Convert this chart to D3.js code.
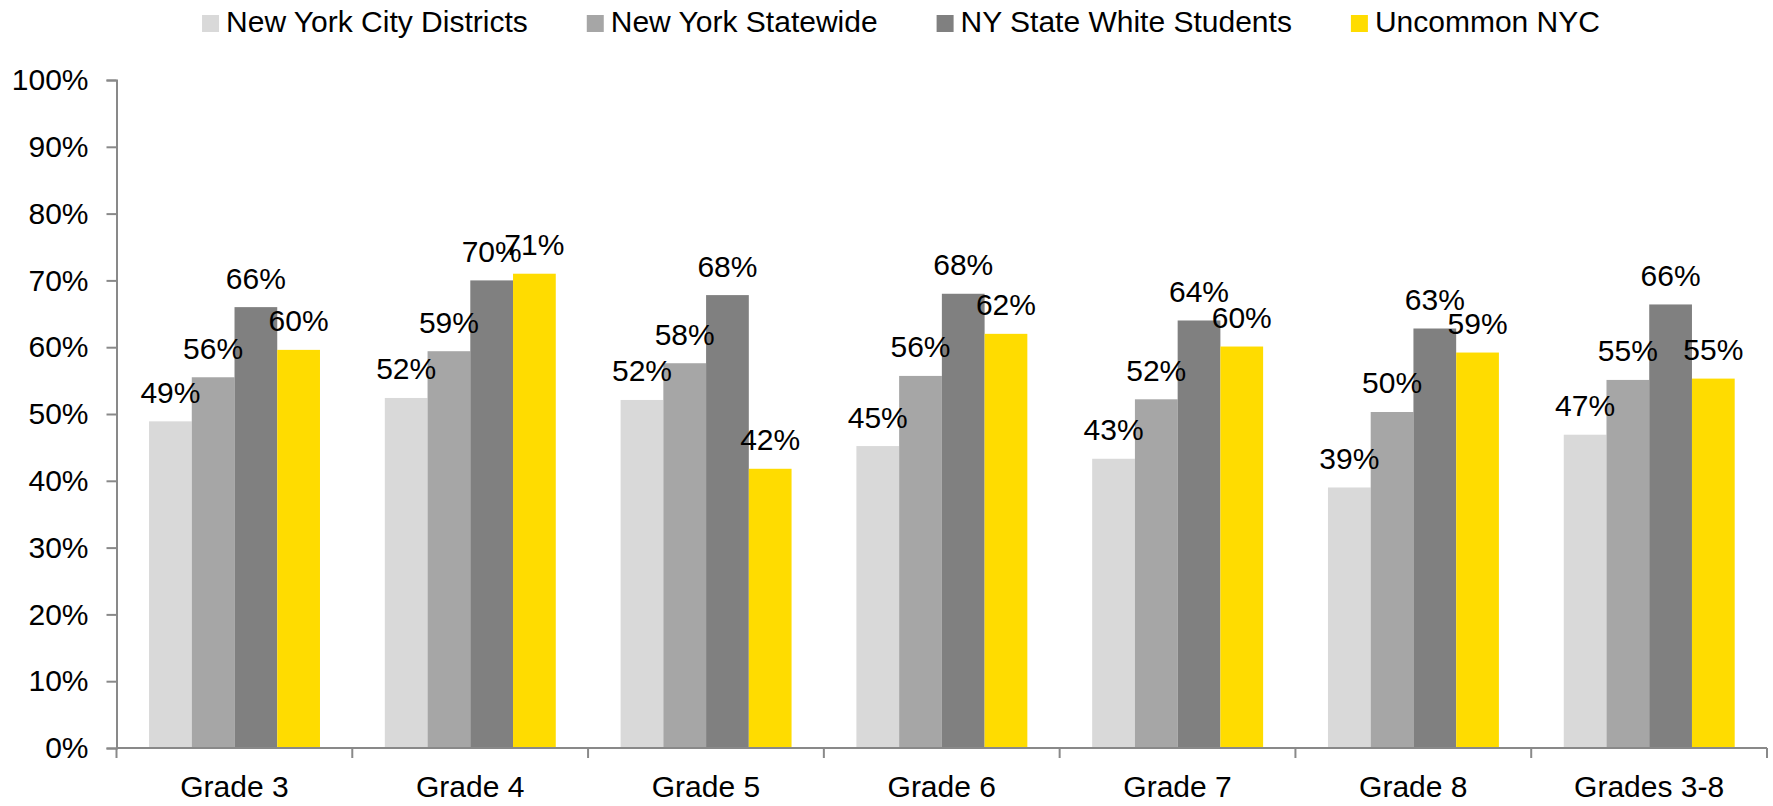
<!DOCTYPE html>
<html>
<head>
<meta charset="utf-8">
<script src="https://cdn.jsdelivr.net/npm/d3@7"></script>
<style>
  html, body { margin: 0; padding: 0; background: #fff; }
  svg { display: block; }
  text { font-family: "Liberation Sans", Arial, sans-serif; fill: #000; }
</style>
</head>
<body>
<svg id="chart" width="1773" height="806"></svg>
<script>
const categories = ["Grade 3", "Grade 4", "Grade 5", "Grade 6", "Grade 7", "Grade 8", "Grades 3-8"];
const seriesNames = ["New York City Districts", "New York Statewide", "NY State White Students", "Uncommon NYC"];
const seriesColors = ["#D9D9D9", "#A6A6A6", "#808080", "#FFDC00"];
const nycDistricts = [0.489, 0.524, 0.521, 0.452, 0.433, 0.390, 0.469];
const nyStatewide  = [0.555, 0.594, 0.576, 0.557, 0.522, 0.503, 0.551];
const nyWhite      = [0.660, 0.700, 0.678, 0.680, 0.640, 0.628, 0.664];
const uncommonNYC  = [0.596, 0.710, 0.418, 0.620, 0.601, 0.592, 0.553];
const yTicks = [0, 0.1, 0.2, 0.3, 0.4, 0.5, 0.6, 0.7, 0.8, 0.9, 1.0];

const seriesValues = [nycDistricts, nyStatewide, nyWhite, uncommonNYC];

const svg = d3.select("#chart");
const axisColor = "#898989";

const y = d3.scaleLinear().domain([0, 1]).range([748, 80]);
const x = d3.scaleBand().domain(categories).range([116.5, 1767]).padding(0);
const step = x.bandwidth();
const x1 = d3.scaleBand().domain(seriesNames)
  .range([step * 0.138, step * 0.138 + step * 0.725]).padding(0);

// Y axis
const yAxis = svg.append("g").attr("transform", "translate(116.5,0)")
  .call(d3.axisLeft(y).tickValues(yTicks).tickFormat(d3.format(".0%")).tickSize(10).tickPadding(18));
yAxis.select(".domain").attr("stroke", axisColor).attr("stroke-width", 2);
yAxis.selectAll(".tick line").attr("stroke", axisColor).attr("stroke-width", 2);
yAxis.selectAll(".tick text").attr("font-size", 30).attr("fill", "#000")
  .attr("font-family", '"Liberation Sans", Arial, sans-serif');

// Bars
const groups = svg.append("g").selectAll("g").data(categories).join("g")
  .attr("transform", d => `translate(${x(d)},0)`);

seriesNames.forEach((s, si) => {
  groups.append("rect")
    .attr("x", x1(s))
    .attr("width", x1.bandwidth())
    .attr("y", (d, i) => y(seriesValues[si][i]))
    .attr("height", (d, i) => y(0) - y(seriesValues[si][i]))
    .attr("fill", seriesColors[si]);
});

// Data labels
seriesNames.forEach((s, si) => {
  groups.append("text")
    .attr("x", x1(s) + x1.bandwidth() / 2)
    .attr("y", (d, i) => y(seriesValues[si][i]) - 18.5)
    .attr("text-anchor", "middle")
    .attr("font-size", 30)
    .text((d, i) => d3.format(".0%")(seriesValues[si][i]));
});

// X axis
const xAxis = svg.append("g").attr("transform", `translate(0,${y(0)})`);
xAxis.append("line").attr("x1", 116.5).attr("x2", 1767).attr("y1", 0).attr("y2", 0)
  .attr("stroke", axisColor).attr("stroke-width", 2);
const bounds = categories.map(c => x(c)).concat([x(categories[categories.length - 1]) + step]);
xAxis.selectAll("line.tk").data(bounds).join("line").attr("class", "tk")
  .attr("x1", d => d).attr("x2", d => d).attr("y1", 0).attr("y2", 10)
  .attr("stroke", axisColor).attr("stroke-width", 2);
xAxis.selectAll("text").data(categories).join("text")
  .attr("x", d => x(d) + step / 2)
  .attr("y", 48.5)
  .attr("text-anchor", "middle")
  .attr("font-size", 30)
  .text(d => d);

// Legend
const legend = svg.append("g");
const items = legend.selectAll("g").data(seriesNames).join("g");
items.append("rect").attr("width", 17).attr("height", 17).attr("y", 15)
  .attr("fill", (d, i) => seriesColors[i]);
items.append("text").attr("x", 24).attr("y", 32).attr("font-size", 30).text(d => d);
let cx = 0;
const widths = [];
items.each(function () {
  widths.push(d3.select(this).select("text").node().getComputedTextLength() + 24);
});
const gap = 59;
const total = d3.sum(widths) + gap * (widths.length - 1);
cx = 901 - total / 2;
items.each(function (d, i) {
  d3.select(this).attr("transform", `translate(${cx},0)`);
  cx += widths[i] + gap;
});
</script>
</body>
</html>
